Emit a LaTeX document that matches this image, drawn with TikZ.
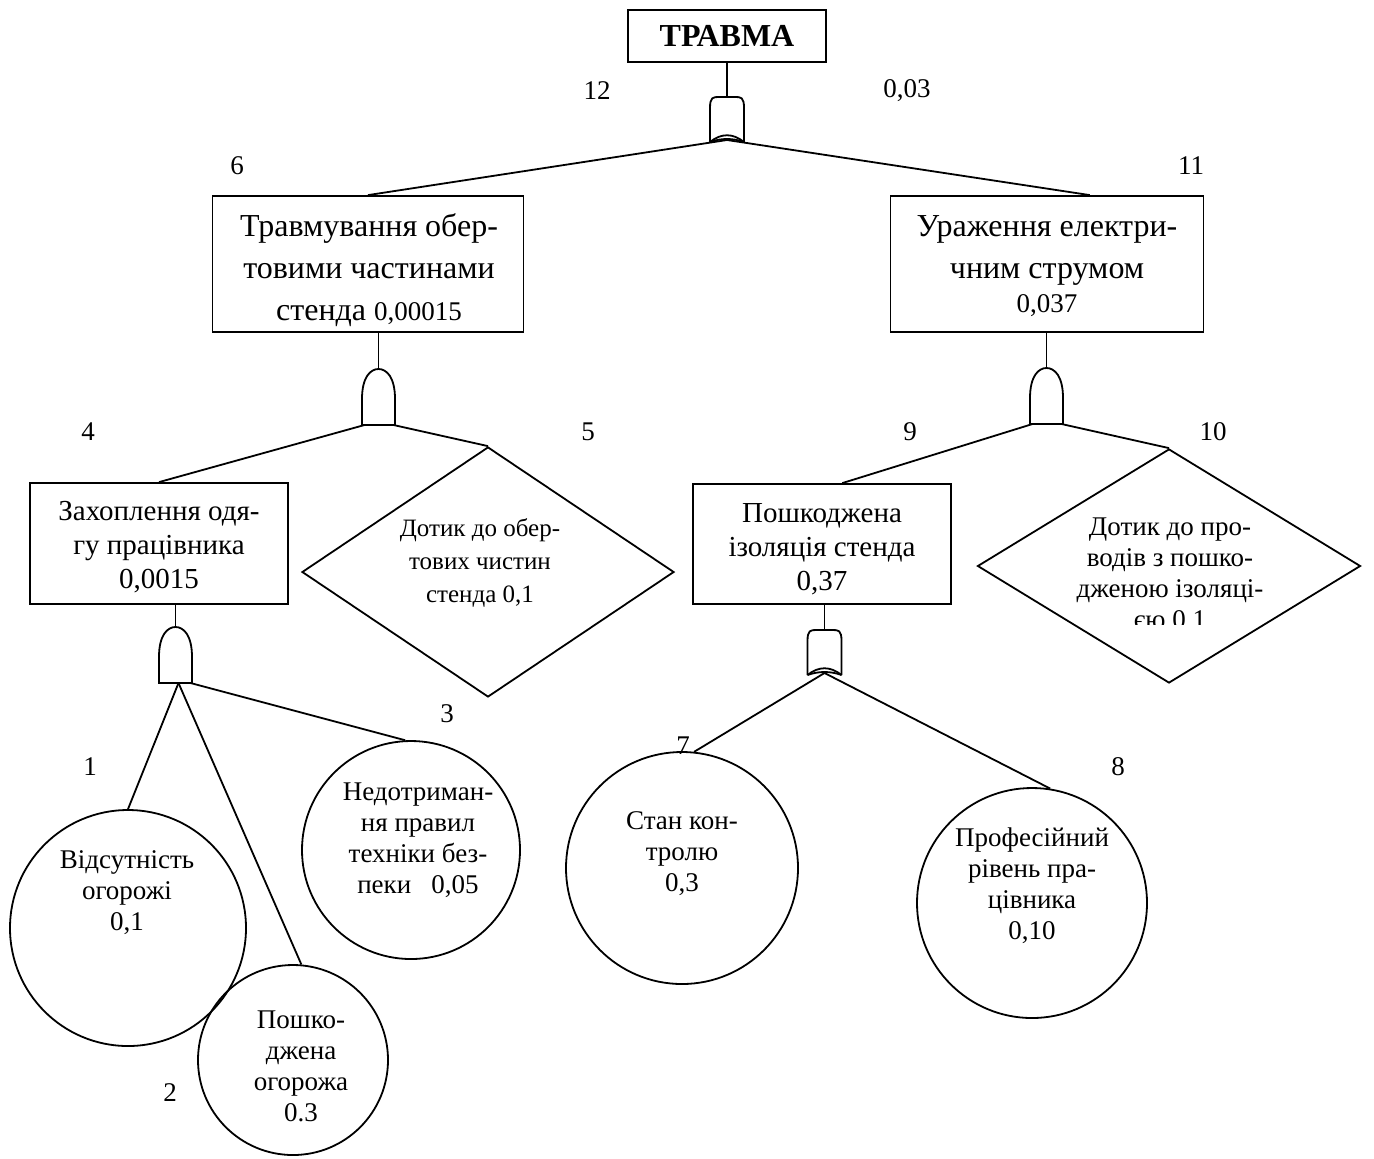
\documentclass[tikz,border=0pt]{standalone}
\usepackage{fontspec}
\setmainfont{Liberation Serif}
\usetikzlibrary{shapes.geometric,calc}

\begin{document}
\begin{tikzpicture}[
  x=0.5pt, y=-0.5pt, line width=0.9pt,
  event/.style={draw, rectangle, inner sep=0pt},
  basic/.style={draw, circle, inner sep=0pt},
  cond/.style={draw, diamond, inner sep=0pt},
  toptext/.style={font=\bfseries\fontsize{16}{18}\selectfont},
  boxtext/.style={font=\fontsize{16}{21}\selectfont, align=center, inner sep=0pt},
  midtext/.style={font=\fontsize{14.5}{17}\selectfont, align=center, inner sep=0pt},
  evtext/.style={font=\fontsize{13.5}{15.5}\selectfont, align=center, inner sep=0pt},
  num/.style={font=\fontsize{13.5}{16}\selectfont, inner sep=0pt},
  andgate/.pic={
    \draw (-16.5,0) -- (-16.5,-26) .. controls (-16.5,-48) and (-8,-56) .. (0,-56)
          .. controls (8,-56) and (16.5,-48) .. (16.5,-26) -- (16.5,0) -- cycle;
    \coordinate (-in) at (0,-56);
    \coordinate (-l) at (-14,0);
    \coordinate (-m) at (3,0);
    \coordinate (-r) at (15,0);
  },
  orgate/.pic={
    \draw (-17,0) -- (-17,-34) .. controls (-17,-45) and (-14,-45) .. (-8,-45) -- (8,-45)
          .. controls (14,-45) and (17,-45) .. (17,-34) -- (17,0);
    \draw (-17,0) .. controls (-6,-9) and (6,-9) .. (17,0);
    \draw (-17,0) .. controls (-6,-4) and (6,-4) .. (17,0);
    \coordinate (-in) at (0,-45);
    \coordinate (-out) at (0,-2);
  },
]
\useasboundingbox (0,0) rectangle (1374,1158);

% ── Top event ──────────────────────────────────────────────────────────
\node[event, minimum width=99pt, minimum height=26pt, toptext] (top) at (727,36) {ТРАВМА};
\pic (g0) at (727,142) {orgate};
\draw (top.south) -- (g0-in);
\node[num] (n12) at (597,91) {12};
\node[num] (n003) at (907,91) {0,03};

% ── Second level ───────────────────────────────────────────────────────
\node[event, minimum width=155.5pt, minimum height=68pt] (b6) at (368,264) {};
\node[boxtext] (b6t) at (369,270)
  {Травмування обер-\\товими частинами\\стенда {\fontsize{13.5}{16}\selectfont 0,00015}};
\node[event, minimum width=156.5pt, minimum height=68pt] (b11) at (1047,264) {};
\node[boxtext] (b11t) at (1047,266)
  {Ураження електри-\\чним струмом\\[-4pt]{\fontsize{13.5}{16}\selectfont 0,037}};
\draw (g0-out) -- (b6.north);
\draw (g0-out) -- ($(b11.north west)!0.636!(b11.north east)$);
\node[num] (n6) at (237,166) {6};
\node[num] (n11) at (1191,166) {11};

\pic (g6) at (378.5,425) {andgate};
\draw (g6-in |- b6.south) -- (g6-in);
\pic (g11) at (1046.5,424) {andgate};
\draw (g11-in |- b11.south) -- (g11-in);

% ── Third level ────────────────────────────────────────────────────────
\node[event, minimum width=129pt, minimum height=60.5pt] (b4) at (159,543.5) {};
\node[midtext] (b4t) at (159,547) {Захоплення одя-\\гу працівника\\0,0015};
\node[cond, minimum width=186pt, minimum height=125pt] (d5) at (488,572) {};
\node[evtext, font=\fontsize{12.5}{16.5}\selectfont] (d5t) at (480,563)
  {Дотик до обер-\\тових чистин\\стенда 0,1};
\node[event, minimum width=129pt, minimum height=60pt] (b9) at (822,544) {};
\node[midtext] (b9t) at (822,549) {Пошкоджена\\ізоляція стенда\\0,37};
\node[cond, minimum width=191.5pt, minimum height=117pt] (d10) at (1169,566) {};
\begin{scope}
  \clip (960,440) rectangle (1370,624);
  \node[evtext] (d10t) at (1170,573)
    {Дотик до про-\\водів з пошко-\\дженою ізоляці-\\єю 0.1};
\end{scope}
\draw (g6-l) -- (b4.north);
\draw (g6-r) -- (d5.north);
\draw (g11-l) -- ($(b9.north west)!0.578!(b9.north east)$);
\draw (g11-r) -- (d10.north);
\node[num] (n4) at (88,432) {4};
\node[num] (n5) at (588,432) {5};
\node[num] (n9) at (910,432) {9};
\node[num] (n10) at (1213,432) {10};

\pic (g4) at (175.5,683) {andgate};
\draw (g4-in |- b4.south) -- (g4-in);
\pic (g9) at (824.5,675) {orgate};
\draw (g9-in |- b9.south) -- (g9-in);

% ── Basic events ───────────────────────────────────────────────────────
\node[basic, minimum size=118pt] (c1) at (128,928) {};
\node[evtext] (c1t) at (127,893) {Відсутність\\огорожі\\0,1};
\node[basic, minimum size=95pt] (c2) at (293,1060) {};
\node[evtext] (c2t) at (301,1066) {Пошко-\\джена\\огорожа\\0.3};
\node[basic, minimum size=109pt] (c3) at (411,850) {};
\node[evtext] (c3t) at (418,840) {Недотриман-\\ня правил\\техніки без-\\пеки\ \ \ 0,05};
\node[basic, minimum size=116pt] (c7) at (682,868) {};
\node[evtext] (c7t) at (682,854) {Стан кон-\\тролю\\0,3};
\node[basic, minimum size=115pt] (c8) at (1032,903) {};
\node[evtext] (c8t) at (1032,886) {Професійний\\рівень пра-\\цівника\\0,10};
\draw (g4-m) -- (c1.north);
\draw (g4-m) -- (c2.85);
\draw (g4-r) -- (c3.93);
\draw (g9-out) -- (c7.84);
\draw (g9-out) -- (c8.81);
\node[num] (n1) at (90,767) {1};
\node[num] (n2) at (170,1093) {2};
\node[num] (n3) at (447,714) {3};
\node[num] (n7) at (683,746) {7};
\node[num] (n8) at (1118,767) {8};

\end{tikzpicture}
\end{document}
